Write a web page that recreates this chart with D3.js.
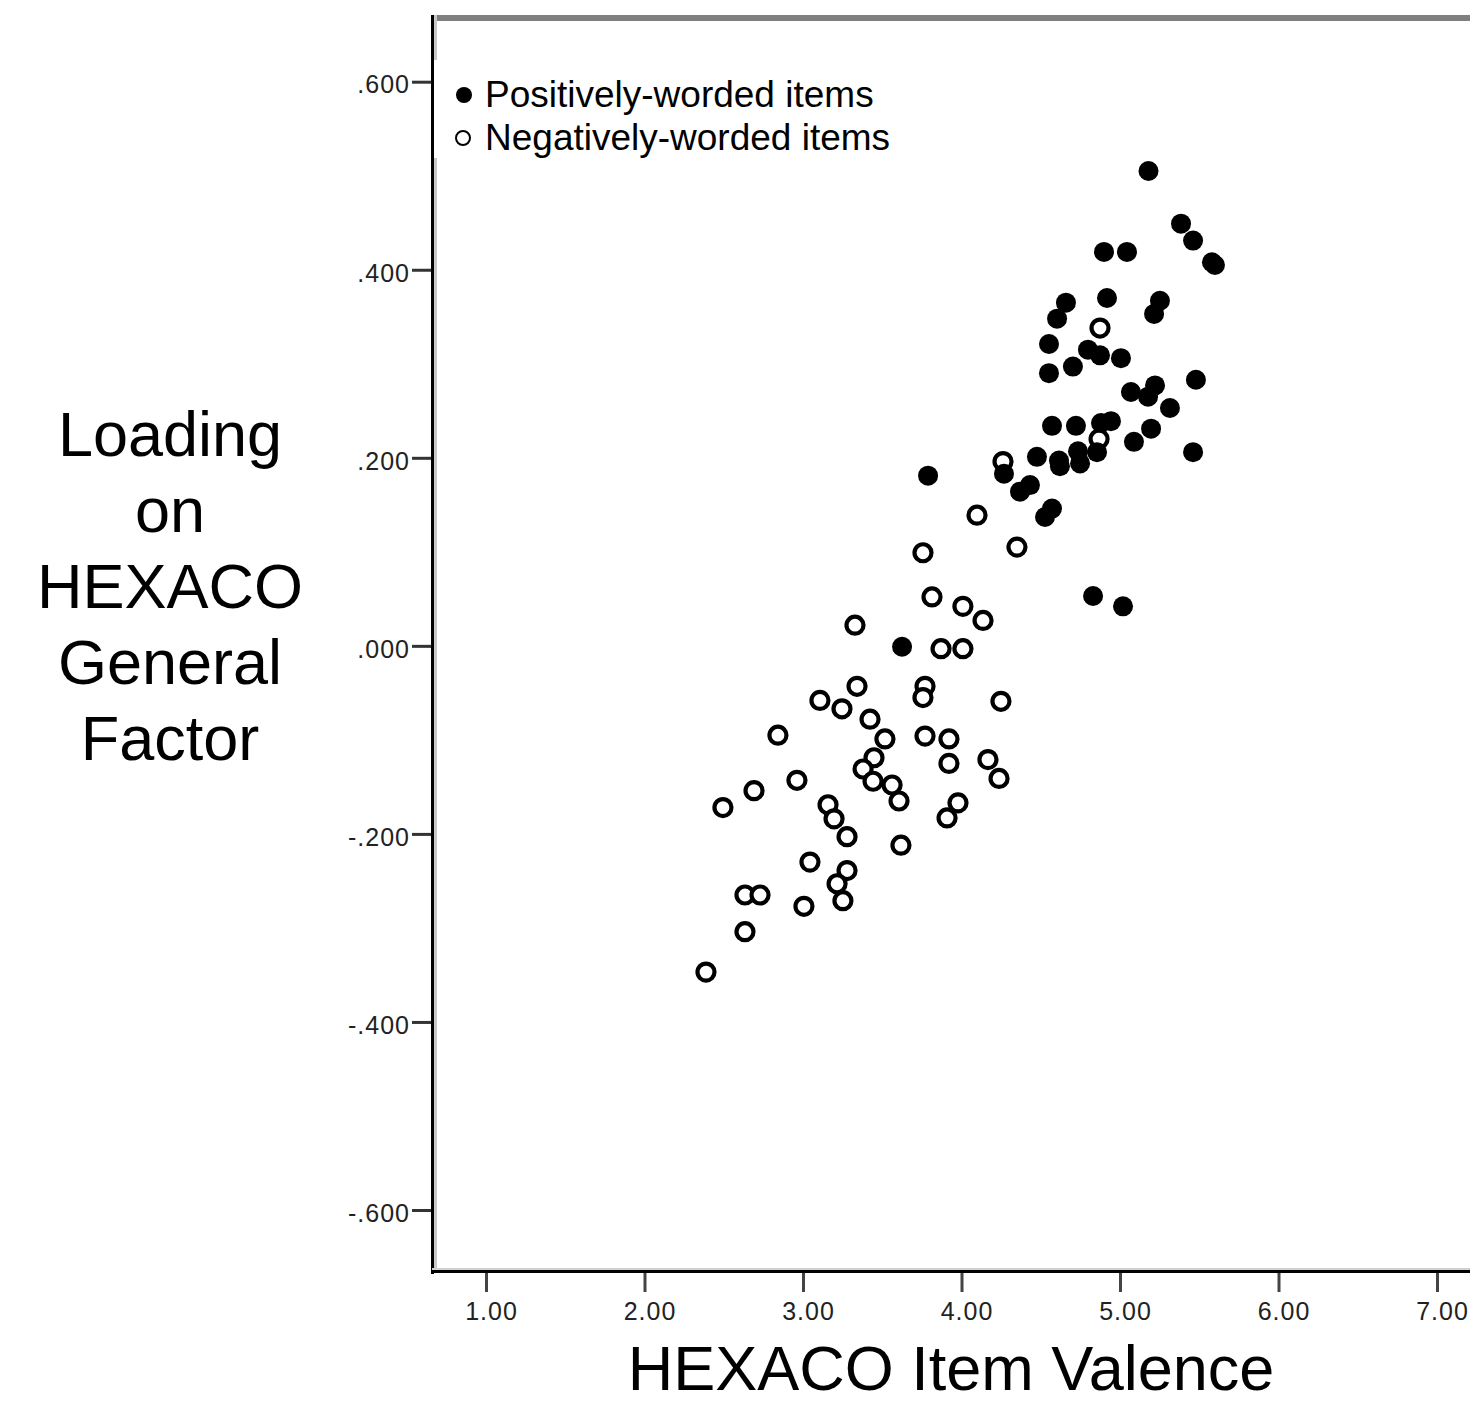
<!DOCTYPE html>
<html>
<head>
<meta charset="utf-8">
<script src="https://cdn.jsdelivr.net/npm/d3@7"></script>
<style>
  body { margin: 0; background: #fff; }
  text { font-family: "Liberation Sans", Arial, sans-serif; }
</style>
</head>
<body>
<div id="vis-holder"></div>
<script>
// item valence (x) and loading on general factor (y)
const posValence = [5.18, 5.385, 5.461, 5.580, 5.599, 4.899, 5.044, 4.918, 4.659, 4.603,
  5.252, 5.215, 4.552, 4.798, 4.874, 5.006, 4.552, 4.703, 5.069, 5.221,
  5.177, 5.479, 5.315, 4.571, 4.722, 4.880, 4.943, 5.196, 5.088, 5.461,
  4.476, 4.615, 4.621, 4.735, 4.748, 4.855, 4.268, 3.789, 4.369, 4.432,
  4.527, 4.571, 4.830, 5.019, 3.625];
const posLoading = [0.505, 0.449, 0.431, 0.408, 0.405, 0.419, 0.419, 0.370, 0.365, 0.348,
  0.367, 0.353, 0.321, 0.315, 0.309, 0.306, 0.290, 0.297, 0.270, 0.277,
  0.265, 0.283, 0.253, 0.234, 0.234, 0.237, 0.239, 0.231, 0.217, 0.206,
  0.201, 0.197, 0.191, 0.207, 0.194, 0.206, 0.183, 0.181, 0.164, 0.171,
  0.137, 0.146, 0.053, 0.042, -0.001];

const negValence = [4.874, 4.868, 4.262, 4.098, 4.350, 3.757, 3.814, 4.009, 4.136, 3.328,
  3.871, 4.009, 3.341, 3.107, 3.246, 3.423, 3.770, 3.757, 4.249, 2.842,
  3.517, 3.770, 3.921, 3.921, 3.448, 3.379, 3.442, 3.562, 3.606, 4.167,
  4.237, 2.962, 2.691, 2.495, 3.158, 3.196, 3.278, 3.978, 3.909, 3.618,
  3.044, 3.278, 3.215, 3.252, 2.634, 2.729, 3.006, 2.634, 2.388];
const negLoading = [0.338, 0.220, 0.196, 0.139, 0.105, 0.099, 0.052, 0.042, 0.027, 0.022,
  -0.003, -0.003, -0.043, -0.058, -0.067, -0.078, -0.043, -0.055, -0.059, -0.095,
  -0.099, -0.096, -0.099, -0.125, -0.119, -0.131, -0.144, -0.148, -0.165, -0.121,
  -0.141, -0.143, -0.154, -0.172, -0.169, -0.184, -0.203, -0.167, -0.183, -0.212,
  -0.230, -0.239, -0.253, -0.271, -0.265, -0.265, -0.277, -0.304, -0.347];

const xTicks = [1, 2, 3, 4, 5, 6, 7];
const yTicks = [0.6, 0.4, 0.2, 0, -0.2, -0.4, -0.6];
const legendLabels = ["Positively-worded items", "Negatively-worded items"];

const w = 1470;
const h = 1424;
const svg = d3.select("#vis-holder").append("svg")
    .attr("width", w)
    .attr("height", h);

// plot frame in pixels
const frameLeft = 432, frameTop = 15, frameRight = 1470, frameBottom = 1272;

const x = d3.scaleLinear().domain([1, 7]).range([486, 1437]);
const y = d3.scaleLinear().domain([-0.6, 0.6]).range([1210, 81.7]);

const posData = posValence.map((v, i) => ({x: v, y: posLoading[i]}));
const negData = negValence.map((v, i) => ({x: v, y: negLoading[i]}));

// frame lines
svg.append("rect").attr("x", frameLeft).attr("y", frameTop).attr("width", frameRight - frameLeft).attr("height", 6)
    .attr("fill", "#808080");
svg.append("rect").attr("x", frameLeft + 2).attr("y", frameTop).attr("width", 3).attr("height", frameBottom - frameTop)
    .attr("fill", "#c8c8c8");
svg.append("rect").attr("x", frameLeft - 1).attr("y", frameTop).attr("width", 3).attr("height", frameBottom - frameTop + 2)
    .attr("fill", "#000");
svg.append("rect").attr("x", frameLeft).attr("y", frameBottom - 4).attr("width", frameRight - frameLeft).attr("height", 2)
    .attr("fill", "#d0d0d0");
svg.append("rect").attr("x", frameLeft - 1).attr("y", frameBottom - 2).attr("width", frameRight - frameLeft + 1).attr("height", 3)
    .attr("fill", "#000");

// y axis, SPSS style labels like ".400" and "-.200"
const fmtY = d3.formatLocale({decimal: ".", thousands: ",", grouping: [3], currency: ["", ""], minus: "-"}).format(".3f");
const yAxis = d3.axisLeft(y)
    .tickValues(yTicks)
    .tickSize(19)
    .tickPadding(2)
    .tickFormat(d => fmtY(d).replace("0.", "."));

const gy = svg.append("g")
    .attr("transform", "translate(" + (frameLeft - 1) + ",0)")
    .call(yAxis);
gy.select(".domain").remove();
gy.selectAll(".tick line").attr("stroke", "#333").attr("stroke-width", 3);
gy.selectAll(".tick text")
    .attr("font-size", 25)
    .attr("letter-spacing", 1)
    .attr("fill", "#222")
    .attr("dy", "0.45em");

// x axis
const xAxis = d3.axisBottom(x)
    .tickValues(xTicks)
    .tickSize(19)
    .tickPadding(10)
    .tickFormat(d3.format(".2f"));

const gx = svg.append("g")
    .attr("transform", "translate(0," + (frameBottom + 1) + ")")
    .call(xAxis);
gx.select(".domain").remove();
gx.selectAll(".tick line").attr("stroke", "#444").attr("stroke-width", 3);
gx.selectAll(".tick text")
    .attr("font-size", 25)
    .attr("letter-spacing", 1)
    .attr("fill", "#222")
    .attr("dx", "0.2em");

// points
svg.append("g").selectAll("circle.neg")
    .data(negData)
    .enter()
    .append("circle")
    .attr("class", "neg")
    .attr("cx", d => x(d.x))
    .attr("cy", d => y(d.y))
    .attr("r", 8.5)
    .attr("fill", "#fff")
    .attr("stroke", "#000")
    .attr("stroke-width", 4.2);

svg.append("g").selectAll("circle.pos")
    .data(posData)
    .enter()
    .append("circle")
    .attr("class", "pos")
    .attr("cx", d => x(d.x))
    .attr("cy", d => y(d.y))
    .attr("r", 10)
    .attr("fill", "#000");

// legend box
const legend = svg.append("g");
legend.append("rect").attr("x", frameLeft + 2).attr("y", 60).attr("width", 470).attr("height", 98)
    .attr("fill", "#fff");
legend.append("circle").attr("cx", 464).attr("cy", 95).attr("r", 8).attr("fill", "#000");
legend.append("circle").attr("cx", 463).attr("cy", 138).attr("r", 7)
    .attr("fill", "none").attr("stroke", "#000").attr("stroke-width", 2);
legend.selectAll("text")
    .data(legendLabels)
    .enter()
    .append("text")
    .attr("x", 485)
    .attr("y", (d, i) => 107 + i * 43)
    .attr("font-size", 37)
    .attr("fill", "#000")
    .text(d => d);

// axis titles
const yTitle = ["Loading", "on", "HEXACO", "General", "Factor"];
svg.append("g").selectAll("text")
    .data(yTitle)
    .enter()
    .append("text")
    .attr("x", 170)
    .attr("y", (d, i) => 456 + i * 76)
    .attr("text-anchor", "middle")
    .attr("font-size", 63)
    .attr("fill", "#000")
    .text(d => d);

svg.append("text")
    .attr("x", 951)
    .attr("y", 1390)
    .attr("text-anchor", "middle")
    .attr("font-size", 63)
    .attr("fill", "#000")
    .text("HEXACO Item Valence");
</script>
</body>
</html>
